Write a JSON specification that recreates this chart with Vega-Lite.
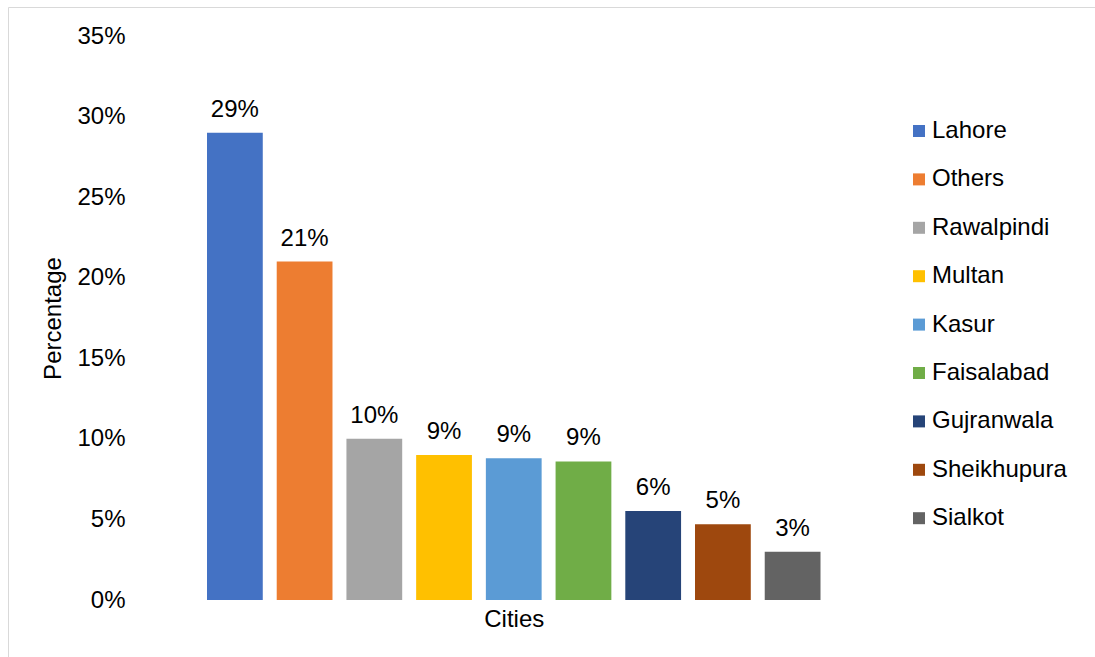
{
  "$schema": "https://vega.github.io/schema/vega-lite/v6.json",
  "width": 1087,
  "height": 650,
  "autosize": {"type": "none"},
  "padding": {"left": 8, "top": 7, "right": 0, "bottom": 0},
  "background": "white",
  "config": {
    "view": {"stroke": "#D9D9D9", "strokeWidth": 1},
    "font": "Liberation Sans",
    "axis": {"grid": false, "domain": false, "ticks": false}
  },
  "data": {
    "values": [
      {"city": "Lahore", "value": 0.29},
      {"city": "Others", "value": 0.21},
      {"city": "Rawalpindi", "value": 0.10},
      {"city": "Multan", "value": 0.09},
      {"city": "Kasur", "value": 0.088},
      {"city": "Faisalabad", "value": 0.086},
      {"city": "Gujranwala", "value": 0.0552},
      {"city": "Sheikhupura", "value": 0.047},
      {"city": "Sialkot", "value": 0.030}
    ]
  },
  "encoding": {
    "x": {
      "field": "city", "type": "nominal", "sort": null,
      "scale": {"range": [199, 812.5], "paddingInner": 0.2, "paddingOuter": 0},
      "axis": {"labels": false, "title": "Cities", "offset": -57, "titlePadding": 7, "titleFontSize": 24, "titleFontWeight": "normal", "titleColor": "#000000", "titleFont": "Liberation Sans"}
    },
    "y": {
      "field": "value", "type": "quantitative",
      "scale": {"domain": [0, 0.35], "range": [593, 29], "nice": false, "zero": true},
      "axis": {"format": ".0%", "values": [0, 0.05, 0.1, 0.15, 0.2, 0.25, 0.3, 0.35], "labelFontSize": 24, "labelColor": "#000000", "labelPadding": 12, "offset": -129, "title": "Percentage", "titleFontSize": 24, "titleFontWeight": "normal", "titleColor": "#000000", "titlePadding": 11, "labelFont": "Liberation Sans", "titleFont": "Liberation Sans"}
    }
  },
  "layer": [
    {
      "mark": {"type": "bar", "tooltip": false},
      "encoding": {
        "color": {
          "field": "city", "type": "nominal", "sort": null,
          "scale": {
            "domain": ["Lahore", "Others", "Rawalpindi", "Multan", "Kasur", "Faisalabad", "Gujranwala", "Sheikhupura", "Sialkot"],
            "range": ["#4472C4", "#ED7D31", "#A5A5A5", "#FFC000", "#5B9BD5", "#70AD47", "#264478", "#9E480E", "#636363"]
          },
          "legend": {
            "title": null, "orient": "none", "legendX": 899, "legendY": 112,
            "symbolType": "square", "symbolSize": 144, "symbolStrokeWidth": 0,
            "labelFontSize": 24, "labelColor": "#000000", "labelFont": "Liberation Sans",
            "labelOffset": 1, "rowPadding": 24.4, "padding": 0, "labelLimit": 300
          }
        }
      }
    },
    {
      "mark": {"type": "text", "baseline": "alphabetic", "dy": -16, "fontSize": 24, "color": "#000000", "font": "Liberation Sans"},
      "encoding": {"text": {"field": "value", "type": "quantitative", "format": ".0%"}}
    }
  ]
}
